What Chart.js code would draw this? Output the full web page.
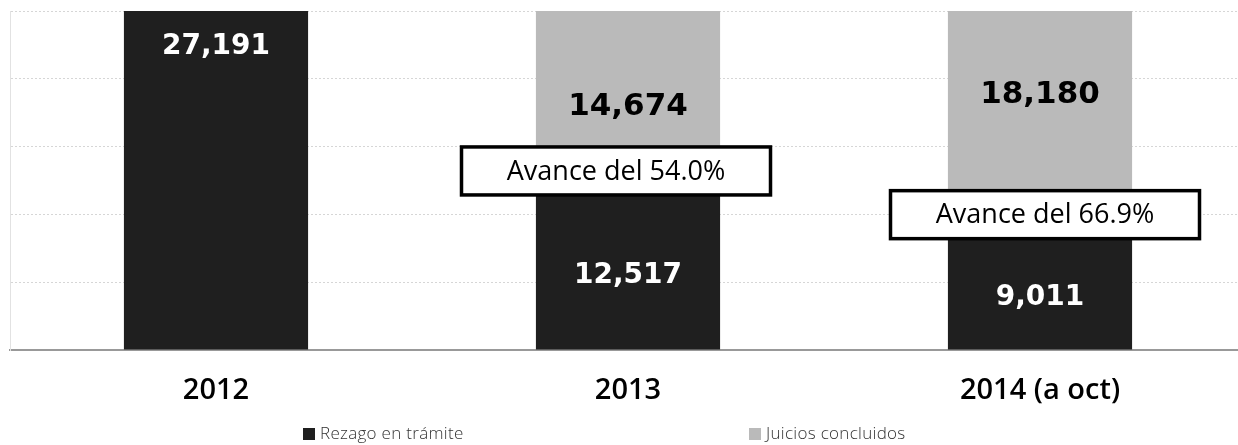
<!DOCTYPE html>
<html lang="es">
<head>
  <meta charset="UTF-8" />
  <title>Rezago en trámite y juicios concluidos</title>
  <script src="https://cdn.jsdelivr.net/npm/chart.js"></script>
  <style>
    body { margin: 0; background: #fff; overflow: hidden; }
    .wrap { position: relative; width: 1246px; height: 445px; }
    .legend {
      position: absolute; top: 421px; left: 0; width: 1246px; height: 22px;
      font-family: "Open Sans", sans-serif; font-weight: 300; font-size: 17px; color: #333;
    }
    .legend span { position: absolute; top: 0; white-space: nowrap; letter-spacing: 0.3px; }
    .legend i { display: inline-block; width: 12px; height: 12px; margin-right: 5px; vertical-align: -1px; }
  </style>
</head>
<body>
  <div class="wrap">
    <canvas id="chart"></canvas>
    <div class="legend">
      <span style="left:303px"><i style="background:#1f1f1f"></i>Rezago en trámite</span>
      <span style="left:749px"><i style="background:#bababa"></i>Juicios concluidos</span>
    </div>
  </div>

  <script>
    const years = ['2012', '2013', '2014 (a oct)'];
    const rezago = [27191, 12517, 9011];
    const concluidos = [0, 14674, 18180];
    const avance = [null, '54.0%', '66.9%'];
    // where the value labels sit, in data units
    const rezagoLabelAt = [24300, 5940, 4170];
    const concluidosLabelAt = [null, 19490, 20450];

    const total = rezago[0];

    const valueLabels = {
      id: 'valueLabels',
      afterDatasetsDraw(chart) {
        const ctx = chart.ctx;
        const y = chart.scales.y;
        const sets = [
          { idx: 0, at: rezagoLabelAt, vals: rezago, color: '#fff', size: 28 },
          { idx: 1, at: concluidosLabelAt, vals: concluidos, color: '#000', size: 31 }
        ];
        ctx.save();
        ctx.textAlign = 'center';
        ctx.textBaseline = 'middle';
        sets.forEach(s => {
          const meta = chart.getDatasetMeta(s.idx);
          ctx.fillStyle = s.color;
          ctx.font = 'bold ' + s.size + 'px "DejaVu Sans", sans-serif';
          meta.data.forEach((bar, i) => {
            if (!s.vals[i]) return;
            ctx.fillText(s.vals[i].toLocaleString('en-US'), bar.x, y.getPixelForValue(s.at[i]));
          });
        });
        ctx.restore();
      }
    };

    const avanceBoxes = {
      id: 'avanceBoxes',
      afterDatasetsDraw(chart, args, opts) {
        const ctx = chart.ctx;
        const y = chart.scales.y;
        const meta = chart.getDatasetMeta(0);
        ctx.save();
        avance.forEach((txt, i) => {
          if (!txt) return;
          const cx = meta.data[i].x + opts.offsets[i];
          const bottom = y.getPixelForValue(rezago[i]) + 1;
          const w = opts.width, h = opts.height;
          ctx.fillStyle = '#fff';
          ctx.fillRect(cx - w / 2, bottom - h, w, h);
          ctx.lineWidth = 3.5;
          ctx.strokeStyle = '#000';
          ctx.strokeRect(cx - w / 2, bottom - h, w, h);
          ctx.fillStyle = '#000';
          ctx.font = '500 27px "Open Sans", sans-serif';
          ctx.textAlign = 'center';
          ctx.textBaseline = 'middle';
          ctx.fillText('Avance del ' + txt, cx, bottom - h / 2 + 1);
        });
        ctx.restore();
      }
    };

    new Chart(document.getElementById('chart'), {
      type: 'bar',
      data: {
        labels: years,
        datasets: [
          { label: 'Rezago en trámite', data: rezago, backgroundColor: '#1f1f1f' },
          { label: 'Juicios concluidos', data: concluidos, backgroundColor: '#bababa' }
        ]
      },
      options: {
        responsive: true,
        maintainAspectRatio: false,
        animation: false,
        categoryPercentage: 1,
        barPercentage: 0.447,
        layout: { padding: { top: 11, left: 0, right: 0, bottom: 0 } },
        plugins: {
          legend: { display: false },
          tooltip: { enabled: false },
          avanceBoxes: { width: 309, height: 48, offsets: [0, -12, 5] }
        },
        scales: {
          x: {
            stacked: true,
            grid: { display: false, drawTicks: false },
            border: { color: '#999', width: 2 },
            ticks: {
              color: '#000',
              padding: 23,
              font: { family: '"Open Sans", sans-serif', size: 29, weight: 600 }
            },
            afterFit: s => { s.height = 95; }
          },
          y: {
            stacked: true,
            min: 0,
            max: total,
            grid: { color: '#d6d6d6', drawTicks: false },
            border: { color: '#e2e2e2', width: 1, dash: [2, 2] },
            ticks: { display: false, stepSize: total / 5 },
            afterFit: s => { s.width = 10; }
          }
        }
      },
      plugins: [valueLabels, avanceBoxes]
    });
  </script>
</body>
</html>
